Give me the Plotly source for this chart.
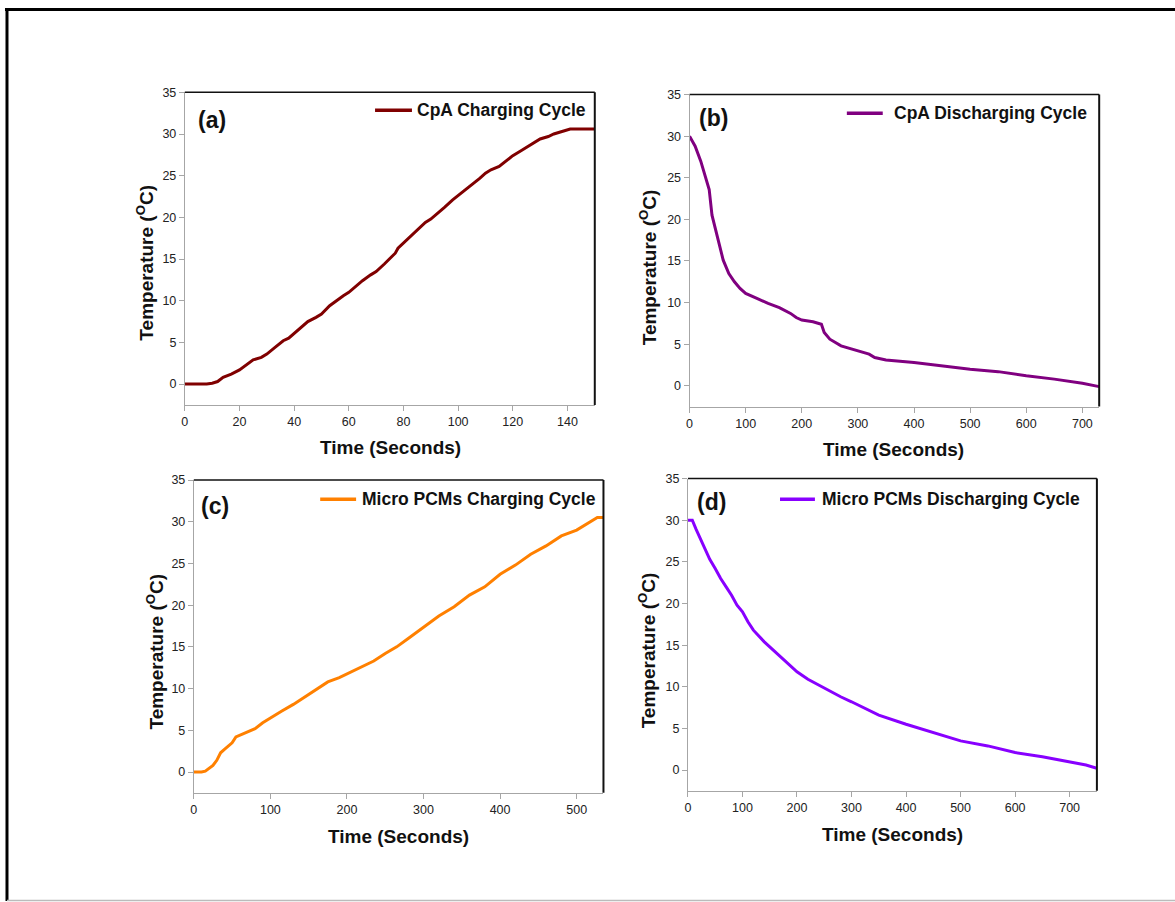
import plotly.graph_objects as go

W, H = 1175, 902

# ---- data ----
a_time = [0, 8, 10, 12, 14, 17, 20, 22, 25, 28, 30, 33, 36, 38, 40, 43, 45, 48, 50, 53, 55, 58, 60,
          63, 65, 68, 70, 73, 75, 77, 78, 80, 83, 85, 88, 90, 93, 95, 98, 100, 103, 105, 108, 110,
          112, 115, 118, 120, 123, 125, 128, 130, 133, 135, 138, 141, 150]
a_temp = [0, 0, 0.1, 0.3, 0.8, 1.2, 1.7, 2.2, 2.9, 3.2, 3.6, 4.4, 5.2, 5.5, 6.1, 6.9, 7.5, 8.0, 8.4,
          9.4, 9.9, 10.6, 11.0, 11.9, 12.4, 13.1, 13.5, 14.4, 15.0, 15.7, 16.3, 16.9, 17.9, 18.5,
          19.4, 19.8, 20.6, 21.2, 22.1, 22.6, 23.4, 23.9, 24.7, 25.3, 25.7, 26.1, 26.9, 27.4, 28.0,
          28.4, 29.0, 29.4, 29.7, 30.0, 30.3, 30.6, 30.6]

b_time = [0, 10, 20, 30, 35, 40, 50, 60, 70, 80, 90, 100, 120, 140, 160, 180, 190, 200, 220, 235,
          240, 250, 270, 300, 320, 330, 350, 400, 450, 500, 550, 600, 650, 700, 730]
b_temp = [30.0, 28.8, 27.0, 24.6, 23.6, 20.5, 17.7, 15.1, 13.5, 12.5, 11.7, 11.1, 10.5, 9.9, 9.4,
          8.7, 8.2, 7.9, 7.7, 7.4, 6.4, 5.6, 4.8, 4.2, 3.8, 3.4, 3.1, 2.8, 2.4, 2.0, 1.7, 1.2, 0.8,
          0.3, -0.1]

c_time = [0, 10, 15, 20, 25, 30, 35, 40, 45, 50, 55, 65, 80, 90, 100, 115, 130, 145, 160, 175, 190,
          205, 220, 235, 250, 265, 280, 300, 320, 340, 360, 380, 400, 420, 440, 460, 480, 500, 520,
          527, 535]
c_temp = [0, 0, 0.1, 0.4, 0.8, 1.4, 2.3, 2.7, 3.1, 3.5, 4.2, 4.6, 5.2, 5.9, 6.5, 7.3, 8.1, 9.0, 9.9,
          10.8, 11.3, 12.0, 12.7, 13.3, 14.2, 15.0, 16.0, 17.4, 18.7, 19.8, 21.2, 22.2, 23.7, 24.8,
          26.1, 27.1, 28.3, 29.0, 30.1, 30.5, 30.5]

d_time = [0, 8, 15, 25, 35, 40, 50, 60, 70, 80, 90, 100, 110, 120, 140, 160, 180, 200, 220, 250,
          280, 300, 350, 400, 450, 500, 550, 600, 650, 700, 730, 750]
d_temp = [30, 30, 28.9, 27.5, 26.1, 25.3, 24.2, 23.0, 22.0, 21.0, 19.8, 19.0, 17.8, 16.8, 15.4, 14.2,
          12.9, 11.8, 10.9, 9.8, 8.8, 8.2, 6.6, 5.5, 4.5, 3.5, 2.9, 2.1, 1.6, 1.0, 0.6, 0.2]

names = ["CpA Charging Cycle", "CpA Discharging Cycle",
         "Micro PCMs Charging Cycle", "Micro PCMs Discharging Cycle"]
labels = ["(a)", "(b)", "(c)", "(d)"]
colors = ["#800000", "#800080", "#FF8000", "#8800FF"]
xranges = [[0, 150], [0, 730], [0, 535], [0, 750]]
xdtick = [20, 100, 100, 100]
yticks = [0, 5, 10, 15, 20, 25, 30, 35]

# plot boxes in pixels: (x0, x1, ytop, ybottom)
boxes = [(182.3, 593.3, 86, 401), (688.3, 1099, 88.3, 402.7),
         (191.3, 602, 476.7, 792), (686.7, 1096.7, 475.3, 790)]
# legend: line x0, line x1, y, text left
legend_pos = [(373, 410, 104, 413), (846, 882, 107, 891), (318, 354, 496, 358), (779, 814, 496, 819)]
label_pos = [(209.5, 114), (712.7, 111.7), (212.8, 503), (710, 499)]
ytitle_pos = [(142, 258), (647, 262), (152, 650), (646, 648)]
xtitle_pos = [(388, 444), (893, 446), (397, 836), (892, 834)]

series = [(a_time, a_temp), (b_time, b_temp), (c_time, c_temp), (d_time, d_temp)]

FONT = "Arial, Liberation Sans, sans-serif"
fig = go.Figure()
px = lambda x: x / W
py = lambda y: 1 - y / H

annotations = []
shapes = []
for i in range(4):
    sfx = "" if i == 0 else str(i + 1)
    xa, ya = "x" + sfx, "y" + sfx
    t, v = series[i]
    fig.add_trace(go.Scatter(x=t, y=v, mode="lines", name=names[i],
                             line=dict(color=colors[i], width=3),
                             xaxis=xa, yaxis=ya, showlegend=False))
    x0, x1, yt, yb = boxes[i]
    fig.layout["xaxis" + sfx] = dict(
        domain=[px(x0), px(x1)], anchor=ya, range=xranges[i], dtick=xdtick[i], tick0=0,
        showgrid=False, zeroline=False, showline=True, linecolor="#a6a6a6", linewidth=1,
        ticks="outside", ticklen=5, tickcolor="#a6a6a6",
        tickfont=dict(family=FONT, size=12.5, color="#222222"))
    fig.layout["yaxis" + sfx] = dict(
        domain=[py(yb), py(yt)], anchor=xa, range=[-2.5, 35], tickvals=yticks,
        showgrid=False, zeroline=False, showline=True, linecolor="#a6a6a6", linewidth=1,
        ticks="outside", ticklen=5, tickcolor="#a6a6a6",
        tickfont=dict(family=FONT, size=12.5, color="#222222"))
    shapes.append(dict(type="line", xref="paper", yref="paper", x0=px(x0), x1=px(x1),
                       y0=py(yt), y1=py(yt), line=dict(color="#111111", width=1.5)))
    shapes.append(dict(type="line", xref="paper", yref="paper", x0=px(x1), x1=px(x1),
                       y0=py(yt), y1=py(yb), line=dict(color="#111111", width=2)))
    lx0, lx1, ly, tx = legend_pos[i]
    shapes.append(dict(type="line", xref="paper", yref="paper", x0=px(lx0), x1=px(lx1),
                       y0=py(ly), y1=py(ly), line=dict(color=colors[i], width=3.5)))
    annotations.append(dict(text="<b>" + names[i] + "</b>", xref="paper", yref="paper",
                            x=px(tx), y=py(ly), showarrow=False, xanchor="left", yanchor="middle",
                            font=dict(family=FONT, size=17.5, color="#111111")))
    annotations.append(dict(text="<b>" + labels[i] + "</b>", xref="paper", yref="paper",
                            x=px(label_pos[i][0]), y=py(label_pos[i][1]), showarrow=False,
                            xanchor="center", yanchor="middle",
                            font=dict(family=FONT, size=23, color="#111111")))
    annotations.append(dict(text="<b>Temperature (<sup>O</sup>C)</b>", xref="paper", yref="paper",
                            x=px(ytitle_pos[i][0]), y=py(ytitle_pos[i][1]), showarrow=False,
                            textangle=-90, xanchor="center", yanchor="middle",
                            font=dict(family=FONT, size=19, color="#111111")))
    annotations.append(dict(text="<b>Time (Seconds)</b>", xref="paper", yref="paper",
                            x=px(xtitle_pos[i][0]), y=py(xtitle_pos[i][1]), showarrow=False,
                            xanchor="center", yanchor="middle",
                            font=dict(family=FONT, size=19, color="#111111")))

# outer frame: black top and left, light gray bottom
shapes.append(dict(type="line", xref="paper", yref="paper", x0=px(2), x1=1, y0=py(2.5), y1=py(2.5),
                   line=dict(color="#000000", width=3)))
shapes.append(dict(type="line", xref="paper", yref="paper", x0=px(4), x1=px(4), y0=py(1), y1=py(901),
                   line=dict(color="#000000", width=3)))
shapes.append(dict(type="line", xref="paper", yref="paper", x0=px(4), x1=1, y0=py(900.5), y1=py(900.5),
                   line=dict(color="#bbbbbb", width=1.5)))

fig.update_layout(width=W, height=H, margin=dict(l=0, r=0, t=0, b=0),
                  paper_bgcolor="white", plot_bgcolor="white",
                  annotations=annotations, shapes=shapes, showlegend=False)

fig.write_html("out.html")
